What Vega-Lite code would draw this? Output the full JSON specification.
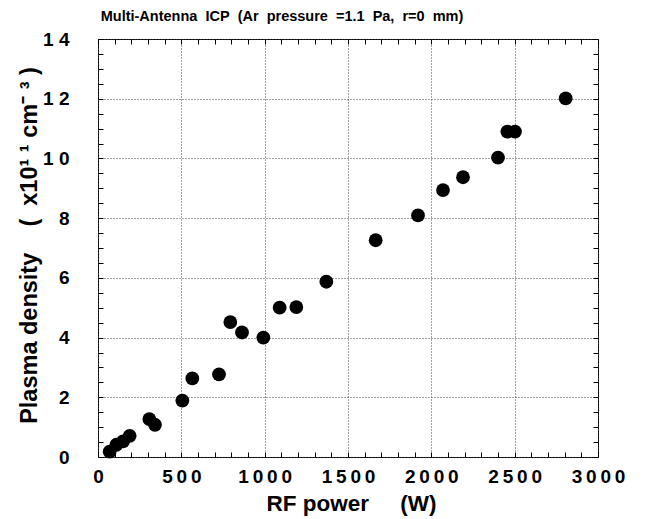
{
  "$schema": "https://vega.github.io/schema/vega-lite/v6.json",
  "width": 500,
  "height": 418,
  "autosize": "none",
  "padding": {"left": 98, "top": 39, "right": 47, "bottom": 62},
  "background": "white",
  "title": {
    "text": "Multi-Antenna\u00a0\u00a0ICP\u00a0\u00a0(Ar\u00a0\u00a0pressure\u00a0\u00a0=1.1\u00a0\u00a0Pa,\u00a0\u00a0r=0\u00a0\u00a0mm)",
    "font": "Liberation Sans",
    "fontSize": 14.5,
    "fontWeight": "bold",
    "color": "black",
    "anchor": "middle",
    "frame": "group",
    "dx": -66,
    "dy": 22,
    "baseline": "alphabetic",
    "offset": 17
  },
  "data": {
    "values": [
      {"power": 70, "density": 0.18},
      {"power": 110, "density": 0.41},
      {"power": 150, "density": 0.52},
      {"power": 190, "density": 0.71},
      {"power": 308, "density": 1.27},
      {"power": 342, "density": 1.08},
      {"power": 506, "density": 1.89},
      {"power": 566, "density": 2.63},
      {"power": 726, "density": 2.77},
      {"power": 794, "density": 4.52},
      {"power": 864, "density": 4.17},
      {"power": 992, "density": 4.0},
      {"power": 1090, "density": 5.0},
      {"power": 1190, "density": 5.02},
      {"power": 1370, "density": 5.87},
      {"power": 1666, "density": 7.26},
      {"power": 1920, "density": 8.09},
      {"power": 2070, "density": 8.94},
      {"power": 2190, "density": 9.37},
      {"power": 2400, "density": 10.03},
      {"power": 2456, "density": 10.9},
      {"power": 2502, "density": 10.9},
      {"power": 2806, "density": 12.01}
    ]
  },
  "config": {
    "view": {"stroke": "black", "strokeWidth": 1},
    "font": "Liberation Sans"
  },
  "layer": [
    {
      "mark": {"type": "point", "filled": true, "color": "black", "size": 190, "opacity": 1, "shape": "circle"},
      "encoding": {
        "x": {
          "field": "power",
          "type": "quantitative",
          "scale": {"domain": [0, 3000], "nice": false, "zero": false},
          "axis": {
            "orient": "bottom",
            "values": [0,100,200,300,400,500,600,700,800,900,1000,1100,1200,1300,1400,1500,1600,1700,1800,1900,2000,2100,2200,2300,2400,2500,2600,2700,2800,2900,3000],
            "format": "d",
            "labelExpr": "datum.value % 500 === 0 ? join(split(datum.label,''),'\u2009') : ''",
            "labelFlush": false,
            "labelOverlap": false,
            "labelBound": false,
            "labelFont": "Liberation Sans",
            "labelFontWeight": "bold",
            "labelFontSize": 19,
            "labelColor": "black",
            "labelPadding": 15,
            "grid": true,
            "gridColor": "#444444",
            "gridDash": [1, 2],
            "gridWidth": 1,
            "gridOpacity": {"condition": {"test": "datum.value % 500 === 0", "value": 1}, "value": 0},
            "tickSize": -5,
            "tickColor": "black",
            "domain": false,
            "title": "RF power\u00a0\u00a0\u00a0\u00a0\u00a0(W)",
            "titleFont": "Liberation Sans",
            "titleFontSize": 22.5,
            "titleFontWeight": "bold",
            "titleColor": "black",
            "titleX": 253,
            "titleY": 53,
            "titleAlign": "center",
            "titleBaseline": "alphabetic"
          }
        },
        "y": {
          "field": "density",
          "type": "quantitative",
          "scale": {"domain": [0, 14], "nice": false, "zero": false},
          "axis": {
            "orient": "left",
            "values": [0,0.5,1,1.5,2,2.5,3,3.5,4,4.5,5,5.5,6,6.5,7,7.5,8,8.5,9,9.5,10,10.5,11,11.5,12,12.5,13,13.5,14],
            "labelExpr": "datum.value % 2 === 0 ? (datum.value >= 10 ? join(split(format(datum.value,'d'),''),' ') : format(datum.value,'d')) : ''",
            "labelFlush": false,
            "labelOverlap": false,
            "labelBound": false,
            "labelFont": "Liberation Sans",
            "labelFontWeight": "bold",
            "labelFontSize": 19,
            "labelColor": "black",
            "labelPadding": 34,
            "grid": true,
            "gridColor": "#444444",
            "gridDash": [1, 2],
            "gridWidth": 1,
            "gridOpacity": {"condition": {"test": "datum.value % 2 === 0", "value": 1}, "value": 0},
            "tickSize": -5,
            "tickColor": "black",
            "domain": false,
            "title": "Plasma density\u00a0\u00a0\u00a0\u00a0(\u00a0\u00a0x10¹\u00a0¹\u00a0cm⁻\u00a0³\u00a0)",
            "titleFont": "Liberation Sans",
            "titleFontSize": 23.5,
            "titleFontWeight": "bold",
            "titleColor": "black",
            "titleX": -69,
            "titleY": 206,
            "titleAngle": -90,
            "titleAlign": "center",
            "titleBaseline": "middle"
          }
        }
      }
    },
    {
      "mark": {"type": "point", "opacity": 0},
      "encoding": {
        "x": {
          "field": "power",
          "type": "quantitative",
          "scale": {"domain": [0, 3000], "nice": false, "zero": false},
          "axis": {
            "orient": "top",
            "values": [0,100,200,300,400,500,600,700,800,900,1000,1100,1200,1300,1400,1500,1600,1700,1800,1900,2000,2100,2200,2300,2400,2500,2600,2700,2800,2900,3000],
            "labels": false,
            "grid": false,
            "tickSize": -5,
            "tickColor": "black",
            "domain": false,
            "title": null
          }
        },
        "y": {
          "field": "density",
          "type": "quantitative",
          "scale": {"domain": [0, 14], "nice": false, "zero": false},
          "axis": {
            "orient": "right",
            "values": [0,0.5,1,1.5,2,2.5,3,3.5,4,4.5,5,5.5,6,6.5,7,7.5,8,8.5,9,9.5,10,10.5,11,11.5,12,12.5,13,13.5,14],
            "labels": false,
            "grid": false,
            "tickSize": -5,
            "tickColor": "black",
            "domain": false,
            "title": null
          }
        }
      }
    }
  ],
  "resolve": {"axis": {"x": "independent", "y": "independent"}}
}
